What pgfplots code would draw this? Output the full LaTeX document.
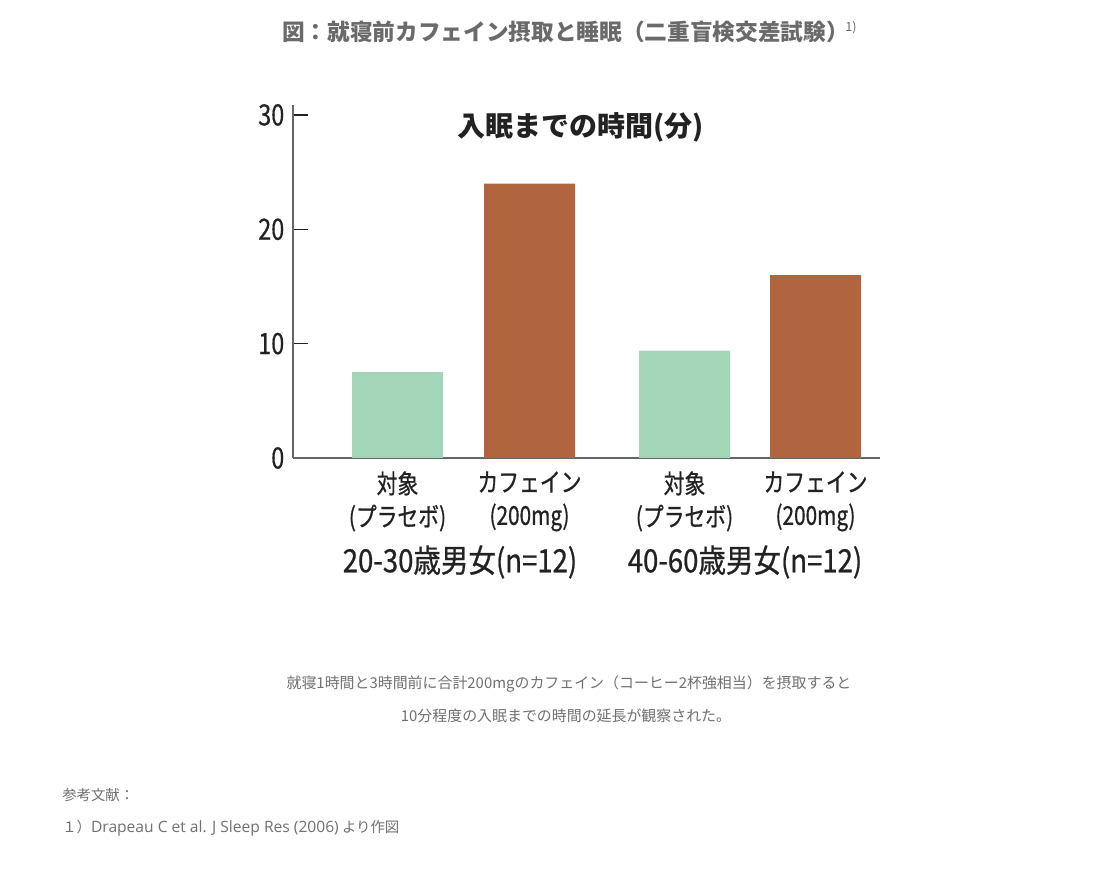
\documentclass[border=0pt]{standalone}
\usepackage{pgfplots}
\pgfplotsset{compat=1.18}
\usepackage{fontspec}
\setmainfont{Noto Sans CJK JP}
\newfontfamily\jp{Noto Sans CJK JP}
\newfontfamily\lat{Open Sans}
\newfontfamily\jpc[FakeStretch=0.80,FakeBold=0.7]{Noto Sans CJK JP}
\newfontfamily\jpg[FakeStretch=0.86,FakeBold=0.7]{Noto Sans CJK JP}
\newfontfamily\jpn[FakeStretch=0.80,FakeBold=0.5]{Noto Sans CJK JP}
\definecolor{placebo}{HTML}{A3D5B8}
\definecolor{caffeine}{HTML}{B1653F}
\definecolor{axisgray}{HTML}{666666}
\definecolor{titlegray}{HTML}{6A6A6A}
\definecolor{textgray}{HTML}{707070}
\definecolor{labelblack}{HTML}{222222}

\begin{document}
\begin{tikzpicture}[x=0.75pt,y=0.75pt]
\useasboundingbox (0,0) rectangle (1105,881);
% page title
\node[anchor=west,text=titlegray,font=\jp\bfseries\fontsize{17}{20}\selectfont,inner sep=0pt]
  at (282,849) {図：就寝前カフェイン摂取と睡眠（二重盲検交差試験）};
\node[anchor=west,text=titlegray,font=\jp\fontsize{9.5}{11}\selectfont,inner sep=0pt]
  at (845,853) {1)};

\begin{axis}[
  at={(219.75pt,317.25pt)}, anchor=south west,
  scale only axis,
  width=440.25pt, height=264.75pt,
  xmin=293, xmax=880,
  ymin=0, ymax=30.87,
  axis x line*=bottom, axis y line*=left,
  axis line style={-, draw=axisgray, line width=1.6pt},
  ytick={0,10,20,30},
  ytick pos=left,
  tick align=inside,
  major tick length=11.25pt,
  ytick style={draw=labelblack, line width=1.1pt},
  yticklabel style={font=\jpn\fontsize{22}{22}\selectfont, text=labelblack, xshift=-3pt},
  /pgf/number format/assume math mode=true,
  xtick={397.5,529.5,684.5,815.5},
  xticklabels={対象\\(プラセボ), カフェイン\\(200mg), 対象\\(プラセボ), カフェイン\\(200mg)},
  xtick style={draw=none},
  xticklabel style={align=center, font=\jpc\fontsize{19.5}{24.75}\selectfont, text=labelblack, yshift=-6.5pt},
  extra x ticks={460,745},
  extra x tick labels={20-30歳男女(n=12), 40-60歳男女(n=12)},
  extra x tick style={tick style={draw=none}, xticklabel style={yshift=-55.5pt, font=\jpg\fontsize{24}{26}\selectfont}},
  clip=false,
]
\addplot[ybar, bar width=68.25pt, fill=placebo, draw=none] coordinates {(397.5,7.5) (684.5,9.4)};
\addplot[ybar, bar width=68.25pt, fill=caffeine, draw=none] coordinates {(529.5,24.0) (815.5,16.0)};
\node[font=\jp\bfseries\fontsize{21}{24}\selectfont, text=labelblack] at (axis cs:580.5,28.9) {入眠までの時間(分)};
\end{axis}

% caption
\node[text=textgray,font=\jp\fontsize{11.2}{14}\selectfont] at (569,197)
  {就寝1時間と3時間前に合計200mgのカフェイン（コーヒー2杯強相当）を摂取すると};
\node[text=textgray,font=\jp\fontsize{11.2}{14}\selectfont] at (566,165)
  {10分程度の入眠までの時間の延長が観察された。};
% reference
\node[anchor=west,text=textgray,font=\jp\fontsize{10.8}{13}\selectfont,inner sep=0pt] at (62,86) {参考文献：};
\node[anchor=west,text=textgray,font=\jp\fontsize{10.8}{13}\selectfont,inner sep=0pt] at (62,53) {１）{\lat\fontsize{11.7}{13}\selectfont Drapeau C et al. J Sleep Res (2006)} より作図};
\end{tikzpicture}
\end{document}
